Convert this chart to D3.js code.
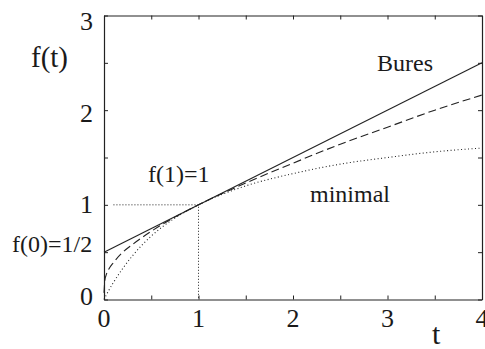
<!DOCTYPE html>
<html>
<head>
<meta charset="utf-8">
<script src="https://cdn.jsdelivr.net/npm/d3@7"></script>
<style>
  svg text { font-family: 'Liberation Serif' !important; }
</style>
</head>
<body style="margin:0">
<script>
// values
const xTicks = [0, 1, 2, 3, 4];
const yTicks = [0, 1, 2, 3];
const minorX = [0.5, 1.5, 2.5, 3.5];
const minorY = [0.5, 1.5, 2.5];

// Bures (solid)
const buresT = [0, 4];
const buresF = [0.5, 2.5];
// middle curve (dashed)
const dashT = [0, 0.01, 0.02, 0.05, 0.1, 0.2, 0.3, 0.5, 0.75, 1, 1.5, 2, 2.5, 3, 3.5, 4];
const dashF = [0.07, 0.21, 0.25, 0.32, 0.39, 0.50, 0.58, 0.72, 0.87, 1, 1.23, 1.44, 1.64, 1.82, 2.0, 2.16];
// minimal (dotted)
const minT = [0, 0.05, 0.1, 0.2, 0.3, 0.5, 0.75, 1, 1.5, 2, 2.5, 3, 3.5, 4];
const minF = [0, 0.095, 0.18, 0.33, 0.46, 0.67, 0.86, 1, 1.2, 1.33, 1.43, 1.5, 1.56, 1.6];

const W = 485, H = 349;
const margin = {left: 104, right: 3, top: 15.5, bottom: 49.5};
const innerW = W - margin.left - margin.right;
const innerH = H - margin.top - margin.bottom;

const svg = d3.select('body')
    .append('svg')
    .attr('width', W)
    .attr('height', H)
    .style('font-family', 'Liberation Serif');
const g = svg.append('g')
    .attr('transform', `translate(${margin.left},${margin.top})`);

const x = d3.scaleLinear().domain([0, 4]).range([0, innerW]);
const y = d3.scaleLinear().domain([0, 3]).range([innerH, 0]);
// tick label baselines drift a little in the original
const yLabel = d3.scaleLinear().domain([0, 3]).range([innerH + 5.5, 14.5]);

const stroke = '#222';

// inward ticks on all four sides
const allX = xTicks.concat(minorX);
const allY = yTicks.concat(minorY);
g.append('g').attr('transform', `translate(0,${innerH})`)
    .call(d3.axisBottom(x).tickValues(allX).tickSizeInner(-4).tickSizeOuter(0).tickFormat(''));
g.append('g')
    .call(d3.axisTop(x).tickValues(allX).tickSizeInner(-4).tickSizeOuter(0).tickFormat(''));
g.append('g')
    .call(d3.axisLeft(y).tickValues(allY).tickSizeInner(-4).tickSizeOuter(0).tickFormat(''));
g.append('g').attr('transform', `translate(${innerW},0)`)
    .call(d3.axisRight(y).tickValues(allY).tickSizeInner(-4).tickSizeOuter(0).tickFormat(''));
g.selectAll('.domain').attr('stroke', stroke).attr('stroke-width', 1.2);
g.selectAll('.tick line').attr('stroke', stroke);
g.selectAll('.tick text').remove();

// text layer
const labels = svg.append('g');
function label(size) {
    return labels.append('text')
        .attr('font-family', 'Liberation Serif')
        .style('font-family', 'Liberation Serif', 'important')
        .attr('font-size', size)
        .attr('fill', '#1a1a1a');
}

// tick labels
xTicks.forEach(d => {
    label(26).attr('x', margin.left + x(d)).attr('y', margin.top + innerH + 27.5)
        .attr('text-anchor', 'middle').text(d);
});
yTicks.forEach(d => {
    label(26).attr('x', margin.left - 11).attr('y', margin.top + yLabel(d))
        .attr('text-anchor', 'end').text(d);
});

// axis titles
label(29).attr('x', 31).attr('y', 67).text('f(t)');
label(30).attr('x', 432).attr('y', 344).text('t');

// dotted guide to f(1)=1
g.append('path')
    .attr('d', d3.line()([[x(0.1), y(1)], [x(1), y(1)], [x(1), y(0)]]))
    .attr('fill', 'none')
    .attr('stroke', stroke)
    .attr('stroke-width', 1)
    .attr('stroke-dasharray', '1,2');

const line = d3.line()
    .x(d => x(d[0]))
    .y(d => y(d[1]))
    .curve(d3.curveMonotoneX);

g.append('path')
    .datum(buresT.map((t, i) => [t, buresF[i]]))
    .attr('d', line)
    .attr('fill', 'none')
    .attr('stroke', stroke)
    .attr('stroke-width', 1.1);
g.append('path')
    .datum(dashT.map((t, i) => [t, dashF[i]]))
    .attr('d', line)
    .attr('fill', 'none')
    .attr('stroke', stroke)
    .attr('stroke-width', 1.1)
    .attr('stroke-dasharray', '8,4');
g.append('path')
    .datum(minT.map((t, i) => [t, minF[i]]))
    .attr('d', line)
    .attr('fill', 'none')
    .attr('stroke', stroke)
    .attr('stroke-width', 1.1)
    .attr('stroke-dasharray', '1,2.5');

// annotations
label(24).attr('x', 377).attr('y', 71).text('Bures');
label(24).attr('x', 310).attr('y', 202).text('minimal');
label(24).attr('x', 148).attr('y', 182).text('f(1)=1');
label(24).attr('x', 12).attr('y', 252).text('f(0)=1/2');
</script>
</body>
</html>
